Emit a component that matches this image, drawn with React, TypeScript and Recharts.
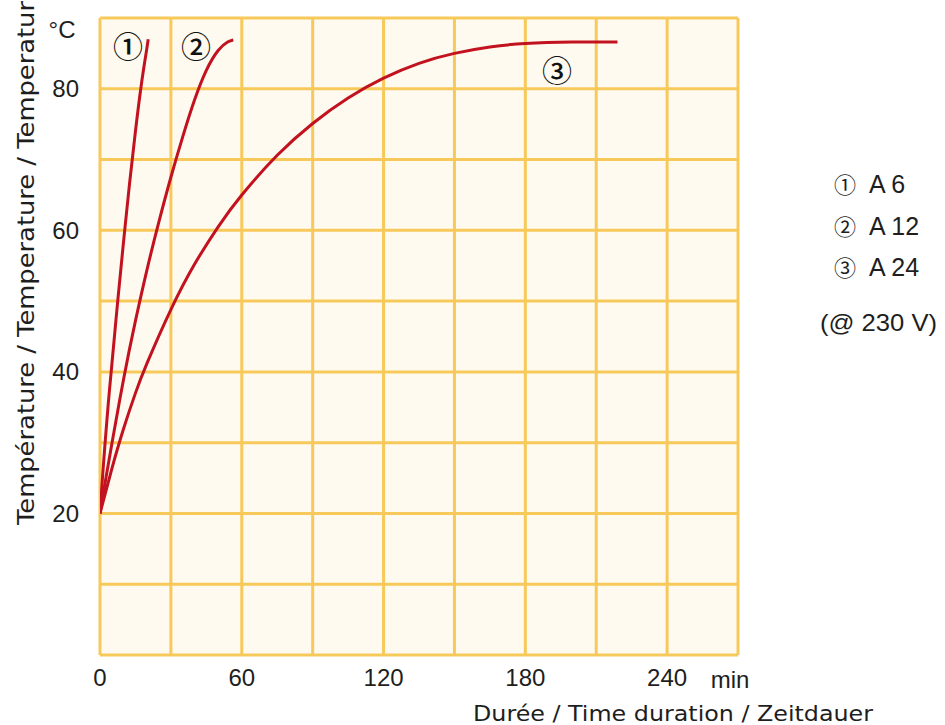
import React from 'react';
import { LineChart, Line, XAxis, YAxis, CartesianGrid, ReferenceDot } from 'recharts';

// Time (min) and temperature (°C)
const timeA6 = [0, 1, 2, 3.5, 5, 7.5, 10, 12.5, 15, 17.5, 19.5, 20.4];
const tempA6 = [20, 24.8, 29.3, 35.5, 41, 50, 58.5, 66.6, 74, 80.6, 85, 87];

const timeA12 = [0, 2.5, 5, 10, 15, 20, 25, 30, 35, 40, 45, 50, 54, 56.4];
const tempA12 = [20, 25, 29.8, 39, 47.2, 54.6, 61.3, 67.5, 73.2, 78.4, 82.6, 85.4, 86.6, 86.9];

const timeA24 = [0, 5, 10, 15, 20, 30, 40, 50, 60, 75, 90, 105, 120, 135, 150, 165, 180, 200, 219];
const tempA24 = [20, 26.3, 32, 37, 41.3, 48.8, 55.2, 60.5, 65, 70.6, 75.1, 78.7, 81.5, 83.6, 85, 85.9, 86.4, 86.6, 86.6];

const xTicks = [0, 60, 120, 180, 240];
const yTicks = [20, 40, 60, 80];
const gridX = [0, 30, 60, 90, 120, 150, 180, 210, 240, 270];
const gridY = [0, 10, 20, 30, 40, 50, 60, 70, 80, 90];

const curveLabels = ['①', '②', '③'];
const curveLabelT = [11.85, 40.6, 193.4];
const curveLabelTemp = [85.9, 85.9, 82.5];

const legendMarks = ['①', '②', '③'];
const legendNames = ['A 6', 'A 12', 'A 24'];
const legendNote = '(@ 230 V)';

const xTitle = 'Durée / Time duration / Zeitdauer';
const yTitle = 'Température / Temperature / Temperatur';
const yUnit = '°C';
const xUnit = 'min';

const toData = (ts: number[], vs: number[]) => ts.map((t, i) => ({ t, T: vs[i] }));
const dataA6 = toData(timeA6, tempA6);
const dataA12 = toData(timeA12, tempA12);
const dataA24 = toData(timeA24, tempA24);

const LINE = '#c2121f';
const GRID = '#f7c95a';
const BG = '#fefaf0';
const TXT = '#1e1e1e';
const SANS = '"Liberation Sans", Arial, sans-serif';
const CJK = '"Noto Sans CJK JP", sans-serif';
const TITLE = '"DejaVu Sans", sans-serif';

const legendY = [193, 235, 276];

export default function App() {
  return (
    <div style={{ position: 'absolute', left: 0, top: 0, width: 945, height: 725, background: '#fff' }}>
      <LineChart width={945} height={725} margin={{ top: 18, right: 207, bottom: 0, left: 40 }}>
        <CartesianGrid
          horizontalValues={gridY}
          verticalValues={gridX}
          stroke={GRID}
          strokeWidth={3}
          fill={BG}
          fillOpacity={1}
        />
        <XAxis
          type="number"
          dataKey="t"
          domain={[0, 270]}
          ticks={xTicks}
          allowDataOverflow
          axisLine={false}
          tickLine={false}
          tickSize={0}
          tickMargin={14}
          height={70}
          tick={{ fontSize: 24, fill: TXT, fontFamily: SANS }}
        />
        <YAxis
          type="number"
          dataKey="T"
          domain={[0, 90]}
          ticks={yTicks}
          allowDataOverflow
          axisLine={false}
          tickLine={false}
          tickSize={0}
          tickMargin={21}
          width={60}
          tick={{ fontSize: 24, fill: TXT, fontFamily: SANS }}
        />
        <Line data={dataA6} dataKey="T" type="natural" stroke={LINE} strokeWidth={3} dot={false} isAnimationActive={false} />
        <Line data={dataA12} dataKey="T" type="natural" stroke={LINE} strokeWidth={3} dot={false} isAnimationActive={false} />
        <Line data={dataA24} dataKey="T" type="natural" stroke={LINE} strokeWidth={3} dot={false} isAnimationActive={false} />
        {curveLabels.map((lab, i) => (
          <ReferenceDot
            key={lab}
            x={curveLabelT[i]}
            y={curveLabelTemp[i]}
            r={0}
            stroke="none"
            fill="none"
            label={{ value: lab, position: 'center', fontSize: 30, fill: '#111', fontFamily: CJK, fontWeight: 500 }}
          />
        ))}
      </LineChart>
      <svg width={945} height={725} style={{ position: 'absolute', left: 0, top: 0, pointerEvents: 'none' }}>
        <text x={62} y={38} fontSize={24} fill={TXT} fontFamily={SANS} textAnchor="middle">{yUnit}</text>
        <text x={730} y={688} fontSize={24} fill={TXT} fontFamily={SANS} textAnchor="middle">{xUnit}</text>
        <text x={473} y={721} fontSize={22} fill={TXT} fontFamily={TITLE} textLength={400} lengthAdjust="spacingAndGlyphs">{xTitle}</text>
        <text
          transform="translate(34,525) rotate(-90)"
          x={0}
          y={0}
          fontSize={23}
          fill={TXT}
          fontFamily={TITLE}
          textLength={524}
          lengthAdjust="spacingAndGlyphs"
        >
          {yTitle}
        </text>
        {legendNames.map((name, i) => (
          <g key={name}>
            <text x={845} y={legendY[i]} fontSize={22} fill={TXT} fontFamily={CJK} textAnchor="middle">{legendMarks[i]}</text>
            <text x={869} y={legendY[i]} fontSize={25} fill={TXT} fontFamily={SANS}>{name}</text>
          </g>
        ))}
        <text x={820} y={331} fontSize={24} fill={TXT} fontFamily={SANS} textLength={117} lengthAdjust="spacingAndGlyphs">{legendNote}</text>
      </svg>
    </div>
  );
}
